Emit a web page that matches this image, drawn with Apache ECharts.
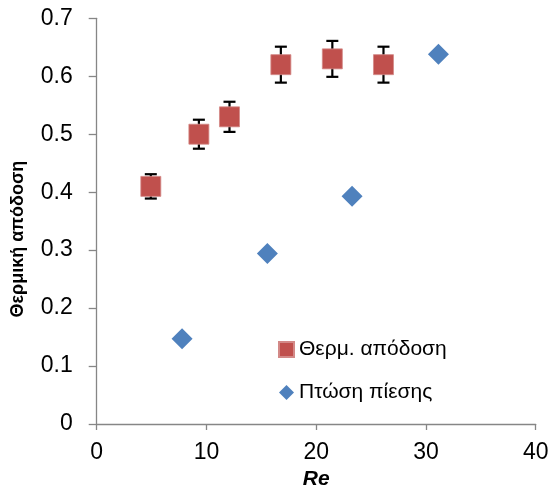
<!DOCTYPE html>
<html><head><meta charset="utf-8">
<script src="https://cdn.jsdelivr.net/npm/echarts@6/dist/echarts.min.js"></script>
<style>html,body{margin:0;padding:0;background:#fff}#c{width:550px;height:491px}</style>
</head><body><div id="c"></div>
<script>
const thermRe = [4.93, 9.31, 12.1, 16.78, 21.47, 26.13];
const thermEff = [0.41, 0.50, 0.53, 0.62, 0.63, 0.62];
const thermErr = [0.021, 0.025, 0.026, 0.031, 0.031, 0.031];
const dropRe = [7.78, 15.55, 23.27, 31.14];
const dropVal = [0.147, 0.294, 0.393, 0.638];
const seriesNames = ['Θερμ. απόδοση', 'Πτώση πίεσης'];
const xTitle = 'Re';
const yTitle = 'Θερμική απόδοση';

const FONT = 'Liberation Sans';
const chart = echarts.init(document.getElementById('c'), null, {renderer:'canvas'});
const axisCol = '#868686';
chart.setOption({
  animation:false,
  grid:{left:96.7, right:14.3, top:18.3, bottom:67, containLabel:false, outerBoundsMode:'none'},
  legend:{
    orient:'vertical', left:273, top:334, itemGap:22,
    itemWidth:15, itemHeight:15,
    textStyle:{fontFamily:FONT, fontSize:21, color:'#000', lineHeight:21},
    data:[{name:seriesNames[0], icon:'rect'},{name:seriesNames[1], icon:'diamond'}]
  },
  xAxis:{
    type:'value', min:0, max:40, interval:10,
    name:xTitle, nameLocation:'middle', nameGap:29,
    nameTextStyle:{fontFamily:FONT, fontSize:21, fontWeight:'bold', fontStyle:'italic', color:'#000'},
    axisLine:{lineStyle:{color:axisCol, width:1.3}},
    axisTick:{show:true, length:6, lineStyle:{color:axisCol, width:1.3}},
    axisLabel:{fontFamily:FONT, fontSize:23, color:'#000', margin:17},
    splitLine:{show:false}
  },
  yAxis:{
    type:'value', min:0, max:0.7, interval:0.1,
    name:yTitle, nameLocation:'middle', nameGap:70,
    nameTextStyle:{fontFamily:FONT, fontSize:18, fontWeight:'bold', color:'#000', padding:[0,36,0,0]},
    axisLine:{show:true, lineStyle:{color:axisCol, width:1.3}},
    axisTick:{show:true, length:8, lineStyle:{color:axisCol, width:1.3}},
    axisLabel:{fontFamily:FONT, fontSize:23, color:'#000', margin:24,
      formatter:v=>v===0?'0':v.toFixed(1)},
    splitLine:{show:false}
  },
  series:[
    {
      type:'custom', name:'err', z:1, silent:true,
      data: thermRe.map((x,i)=>[x, thermEff[i], thermErr[i]]),
      renderItem:function(params, api){
        const x=api.value(0), y=api.value(1), e=api.value(2);
        const t=api.coord([x,y+e]), b=api.coord([x,y-e]);
        const cw=6;
        const st={stroke:'#000', lineWidth:2.2};
        return {type:'group', children:[
          {type:'line', shape:{x1:t[0],y1:t[1],x2:b[0],y2:b[1]}, style:st},
          {type:'line', shape:{x1:t[0]-cw,y1:t[1],x2:t[0]+cw,y2:t[1]}, style:st},
          {type:'line', shape:{x1:b[0]-cw,y1:b[1],x2:b[0]+cw,y2:b[1]}, style:st}
        ]};
      }
    },
    {
      type:'scatter', name:seriesNames[0], z:3, symbol:'rect', symbolSize:20,
      itemStyle:{color:'#C0504D', borderColor:'#d38987', borderWidth:0.8, opacity:1},
      data: thermRe.map((x,i)=>[x, thermEff[i]])
    },
    {
      type:'scatter', name:seriesNames[1], z:3, symbol:'diamond', symbolSize:21,
      itemStyle:{color:'#4F81BD', opacity:1},
      data: dropRe.map((x,i)=>[x, dropVal[i]])
    }
  ]
});
</script></body></html>
